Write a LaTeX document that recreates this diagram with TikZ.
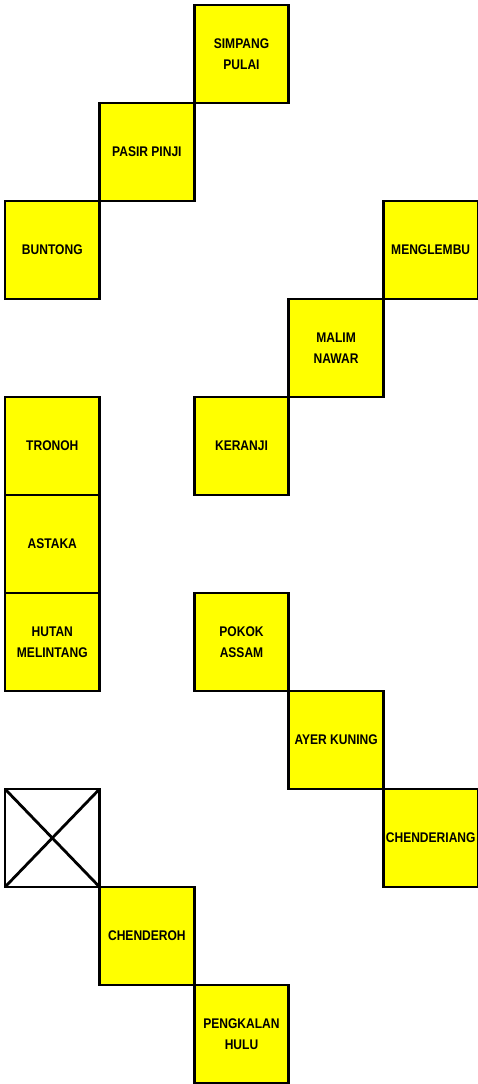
\documentclass[tikz,border=0pt]{standalone}
\usepackage{fontspec}
\setmainfont{Liberation Sans}[FakeStretch=0.86]
\definecolor{stopyellow}{RGB}{255,255,0}
\begin{document}
\begin{tikzpicture}[x=94.6pt,y=-98pt,line width=2.8pt,
    stop/.style={draw, fill=stopyellow, minimum width=94.6pt, minimum height=98pt,
      inner sep=0pt, outer sep=0pt, align=center,
      font=\fontsize{14}{21}\selectfont\bfseries},
    blank/.style={stop, fill=white}]
    \useasboundingbox (-5pt,5pt) rectangle (472pt,-1079pt);

    \node[stop] (simpang) at (2.5,0.5) {SIMPANG\\PULAI};
    \node[stop] (pasir) at (1.5,1.5) {PASIR PINJI};
    \node[stop] (buntong) at (0.5,2.5) {BUNTONG};
    \node[stop] (menglembu) at (4.5,2.5) {MENGLEMBU};
    \node[stop] (malim) at (3.5,3.5) {MALIM\\NAWAR};
    \node[stop] (tronoh) at (0.5,4.5) {TRONOH};
    \node[stop] (keranji) at (2.5,4.5) {KERANJI};
    \node[stop] (astaka) at (0.5,5.5) {ASTAKA};
    \node[stop] (hutan) at (0.5,6.5) {HUTAN\\MELINTANG};
    \node[stop] (pokok) at (2.5,6.5) {POKOK\\ASSAM};
    \node[stop] (ayer) at (3.5,7.5) {AYER KUNING};
    \node[blank] (closed) at (0.5,8.5) {};
    \node[stop] (chenderiang) at (4.5,8.5) {CHENDERIANG};
    \node[stop] (chenderoh) at (1.5,9.5) {CHENDEROH};
    \node[stop] (pengkalan) at (2.5,10.5) {PENGKALAN\\HULU};

    \draw (closed.north west) -- (closed.south east);
    \draw (closed.north east) -- (closed.south west);
  \end{tikzpicture}
\end{document}
